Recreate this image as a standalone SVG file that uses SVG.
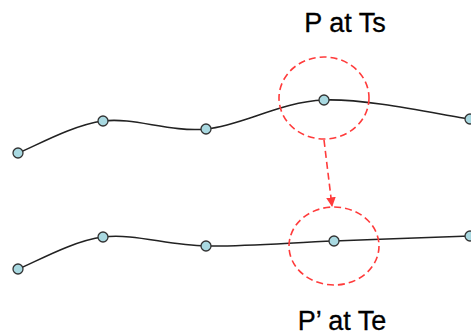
<svg xmlns="http://www.w3.org/2000/svg" width="471" height="335" viewBox="0 0 471 335">
<style>
.curve{fill:none;stroke:#222;stroke-width:1.6}
.node{fill:#a9d9e1;stroke:#333;stroke-width:1.3}
.dash{fill:none;stroke:#ff3b3b;stroke-width:1.6;stroke-dasharray:7 4}
.lbl{font-family:"Liberation Sans",Arial,sans-serif;font-size:27px;fill:#000;stroke:#000;stroke-width:0.3;text-anchor:middle}
</style>
<defs>
<marker id="arr" viewBox="0 0 10 10" refX="9" refY="5" markerWidth="6" markerHeight="6" orient="auto" markerUnits="strokeWidth">
<path d="M0,0 L10,5 L0,10 z" fill="#ff3b3b"/>
</marker>
</defs>
<g id="connectors">
<path class="curve" d="M18,153 C32,148 71.7,125 103,121 C134.3,117 169.2,132.5 206,129 C242.8,125.5 280,101.7 324,100 C368,98.3 445.7,115.8 470,119"/>
<path class="curve" d="M18,269 C32,264 71.7,240.8 103,237 C134.3,233.2 167.5,245.3 206,246 C244.5,246.7 290,242.7 334,241 C378,239.3 447.3,236.8 470,236"/>
<path class="dash" d="M324,140 L332,206" marker-end="url(#arr)"/>
</g>
<g id="circle-ts"><ellipse class="dash" cx="324" cy="98" rx="45" ry="41"/></g>
<g id="circle-te"><ellipse class="dash" cx="334" cy="246" rx="45" ry="39"/></g>
<g id="p1"><circle class="node" cx="18" cy="153" r="5"/></g>
<g id="p2"><circle class="node" cx="103" cy="121" r="5"/></g>
<g id="p3"><circle class="node" cx="206" cy="129" r="5"/></g>
<g id="p4"><circle class="node" cx="324" cy="100" r="5"/></g>
<g id="p5"><circle class="node" cx="470" cy="119" r="5"/></g>
<g id="q1"><circle class="node" cx="18" cy="269" r="5"/></g>
<g id="q2"><circle class="node" cx="103" cy="237" r="5"/></g>
<g id="q3"><circle class="node" cx="206" cy="246" r="5"/></g>
<g id="q4"><circle class="node" cx="334" cy="241" r="5"/></g>
<g id="q5"><circle class="node" cx="470" cy="236" r="5"/></g>
<g id="label-ts"><text class="lbl" x="345" y="32">P at Ts</text></g>
<g id="label-te"><text class="lbl" x="342" y="330">P’ at Te</text></g>
</svg>
